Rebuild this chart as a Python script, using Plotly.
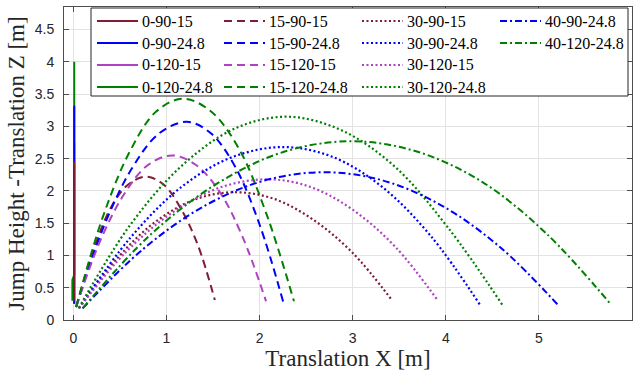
import plotly.graph_objects as go

# ---------------- data ----------------
x_0_90_15 = [0.01, 0.01]
z_0_90_15 = [0.30, 2.46]
x_0_90_248 = [0.01, 0.01]
z_0_90_248 = [0.25, 3.32]
x_0_120_15 = [0.01, 0.01]
z_0_120_15 = [0.25, 2.75]
x_0_120_248 = [-0.01, -0.01, 0.01, 0.01]
z_0_120_248 = [0.30, 0.62, 0.70, 4.00]

x_15_90_15 = [0.03, 0.22, 0.41, 0.59, 0.78, 0.97, 1.15, 1.34, 1.52]
z_15_90_15 = [0.20, 1.10, 1.76, 2.10, 2.22, 2.10, 1.74, 1.15, 0.31]
x_15_90_248 = [0.03, 0.33, 0.63, 0.92, 1.22, 1.48, 1.74, 2.00, 2.26]
z_15_90_248 = [0.20, 1.46, 2.35, 2.89, 3.07, 2.89, 2.37, 1.48, 0.25]
x_15_120_15 = [0.03, 0.29, 0.55, 0.80, 1.06, 1.31, 1.57, 1.82, 2.07]
z_15_120_15 = [0.20, 1.23, 1.96, 2.40, 2.55, 2.41, 1.99, 1.28, 0.29]
x_15_120_248 = [0.03, 0.32, 0.61, 0.89, 1.18, 1.48, 1.78, 2.07, 2.37]
z_15_120_248 = [0.20, 1.61, 2.62, 3.23, 3.43, 3.23, 2.65, 1.66, 0.29]

x_30_90_15 = [0.06, 0.48, 0.89, 1.31, 1.72, 2.15, 2.57, 3.00, 3.42]
z_30_90_15 = [0.18, 0.97, 1.53, 1.87, 1.98, 1.88, 1.56, 1.04, 0.31]
x_30_90_248 = [0.06, 0.61, 1.16, 1.70, 2.25, 2.78, 3.31, 3.84, 4.37]
z_30_90_248 = [0.18, 1.27, 2.06, 2.52, 2.68, 2.53, 2.07, 1.30, 0.23]
x_30_120_15 = [0.06, 0.57, 1.08, 1.59, 2.10, 2.55, 3.00, 3.46, 3.91]
z_30_120_15 = [0.18, 1.06, 1.68, 2.06, 2.18, 2.06, 1.71, 1.13, 0.31]
x_30_120_248 = [0.06, 0.62, 1.18, 1.74, 2.30, 2.88, 3.45, 4.03, 4.61]
z_30_120_248 = [0.19, 1.49, 2.41, 2.97, 3.15, 2.94, 2.38, 1.42, 0.23]

x_40_90_248 = [0.10, 0.75, 1.40, 2.05, 2.70, 3.33, 3.96, 4.59, 5.22]
z_40_90_248 = [0.18, 1.10, 1.76, 2.16, 2.29, 2.16, 1.77, 1.12, 0.21]
x_40_120_248 = [0.10, 0.82, 1.55, 2.27, 2.99, 3.69, 4.39, 5.08, 5.78]
z_40_120_248 = [0.18, 1.31, 2.12, 2.61, 2.77, 2.61, 2.14, 1.34, 0.23]

x_ticks = [0, 1, 2, 3, 4, 5, 6]
y_ticks = [0, 0.5, 1, 1.5, 2, 2.5, 3, 3.5, 4, 4.5]

# ---------------- styles ----------------
MAROON = "#7F1D36"
BLUE = "#0000FF"
PURPLE = "#AE42C2"
GREEN = "#008000"
DASH = "8px,5px"
DOT = "2px,2.5px"
DASHDOT = "7px,3px,2px,3px"

series = [
    # name, x, z, color, dash
    ("0-90-15", x_0_90_15, z_0_90_15, MAROON, "solid"),
    ("0-90-24.8", x_0_90_248, z_0_90_248, BLUE, "solid"),
    ("0-120-15", x_0_120_15, z_0_120_15, PURPLE, "solid"),
    ("0-120-24.8", x_0_120_248, z_0_120_248, GREEN, "solid"),
    ("15-90-15", x_15_90_15, z_15_90_15, MAROON, DASH),
    ("15-90-24.8", x_15_90_248, z_15_90_248, BLUE, DASH),
    ("15-120-15", x_15_120_15, z_15_120_15, PURPLE, DASH),
    ("15-120-24.8", x_15_120_248, z_15_120_248, GREEN, DASH),
    ("30-90-15", x_30_90_15, z_30_90_15, MAROON, DOT),
    ("30-90-24.8", x_30_90_248, z_30_90_248, BLUE, DOT),
    ("30-120-15", x_30_120_15, z_30_120_15, PURPLE, DOT),
    ("30-120-24.8", x_30_120_248, z_30_120_248, GREEN, DOT),
    ("40-90-24.8", x_40_90_248, z_40_90_248, BLUE, DASHDOT),
    ("40-120-24.8", x_40_120_248, z_40_120_248, GREEN, DASHDOT),
]

W, H = 633, 371
ML, MR, MT, MB = 64, 1, 7, 51
PW, PH = W - ML - MR, H - MT - MB

fig = go.Figure()

# vertical jumps: draw in reverse so the shortest is on top
vertical = series[:4][::-1]
others = series[4:]
for name, xs, zs, col, dash in vertical + others:
    fig.add_trace(go.Scatter(
        x=xs, y=zs, mode="lines", name=name, showlegend=False,
        line=dict(color=col, width=2.2 if dash == DOT else 2, dash=dash,
                  shape="spline" if len(xs) > 4 else "linear"),
        hoverinfo="skip",
    ))

# ---------------- manual legend (4 columns, column-major) ----------------
def px_x(p):
    return (p - ML) / PW

def px_y(p):
    return (H - MB - p) / PH

shapes = [dict(type="rect", xref="paper", yref="paper",
               x0=px_x(91), x1=px_x(628), y0=px_y(96), y1=px_y(8),
               fillcolor="white", line=dict(color="#262626", width=1), layer="above")]
annotations = []
col_line_x = [97, 224, 362, 500]
row_y = [21, 43, 65, 87]
for i, (name, xs, zs, col, dash) in enumerate(series):
    c, r = divmod(i, 4)
    lx = col_line_x[c]
    ly = row_y[r]
    shapes.append(dict(type="line", xref="paper", yref="paper",
                       x0=px_x(lx), x1=px_x(lx + 41), y0=px_y(ly), y1=px_y(ly),
                       line=dict(color=col, width=2, dash=dash), layer="above"))
    annotations.append(dict(xref="paper", yref="paper", x=px_x(lx + 43), y=px_y(ly),
                            text=name, showarrow=False, xanchor="left", yanchor="middle",
                            font=dict(family="Liberation Serif", size=16, color="black")))

axis_common = dict(
    showline=True, mirror="ticks", linecolor="#4d4d4d", linewidth=1,
    ticks="inside", ticklen=5, tickcolor="#4d4d4d", tickwidth=1,
    showgrid=True, gridcolor="#e3e3e3", gridwidth=1, zeroline=False,
    tickfont=dict(family="Liberation Sans", size=14, color="#262626"),
)

fig.update_layout(
    width=W, height=H,
    margin=dict(l=ML, r=MR, t=MT, b=MB),
    paper_bgcolor="white", plot_bgcolor="white",
    showlegend=False,
    xaxis=dict(range=[-0.1, 6], tickvals=x_ticks, ticklabelstandoff=5,
               title=dict(text="Translation X [m]", standoff=3,
                          font=dict(family="Liberation Serif", size=23, color="#262626")),
               **axis_common),
    yaxis=dict(range=[0, 4.85], tickvals=y_ticks, ticklabelstandoff=6,
               title=dict(text="Jump Height -Translation Z [m]", standoff=3,
                          font=dict(family="Liberation Serif", size=23, color="#262626")),
               **axis_common),
    shapes=shapes,
    annotations=annotations,
)

fig.write_html("out.html")
